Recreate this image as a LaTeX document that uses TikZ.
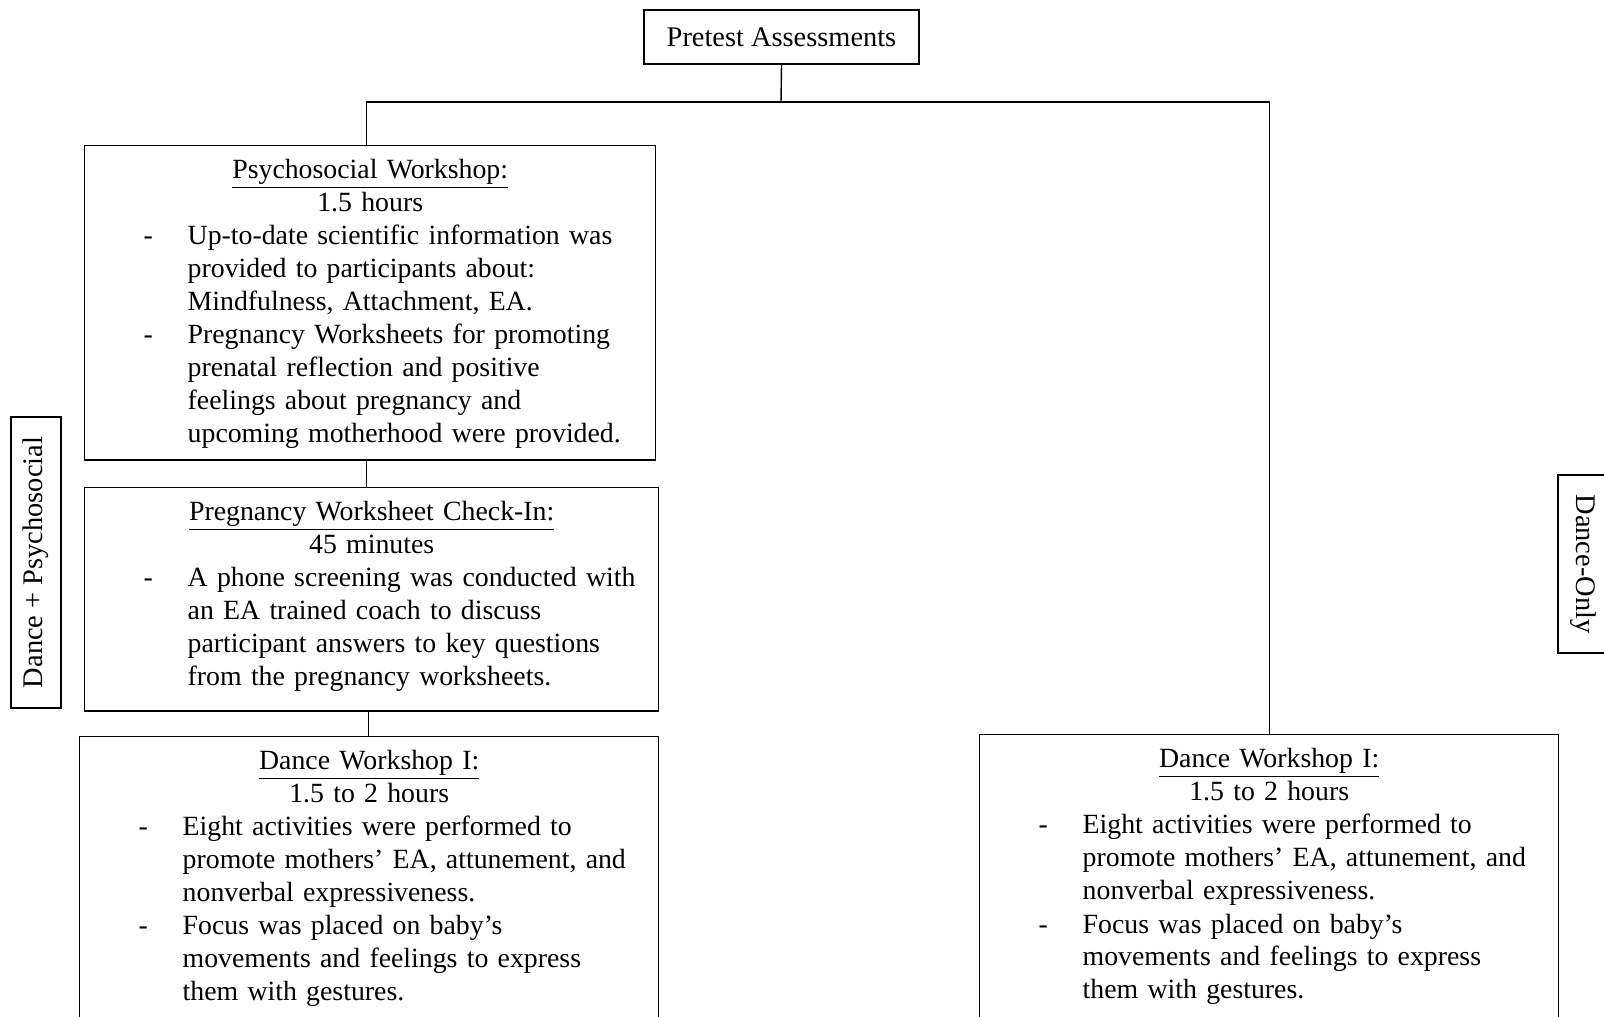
\documentclass[tikz,border=0pt]{standalone}
\usepackage{fontspec}
\setmainfont{Liberation Serif}
\usetikzlibrary{positioning}

\newcommand{\boxtitle}[2]{{\centering\underline{#1}\\#2\par}}
\newcommand{\dashitem}[1]{{\raggedright\let\\\newline\noindent\hangindent=51.5pt\hangafter=1\hspace*{29.5pt}\makebox[22pt][l]{-}#1\par}}

\begin{document}
\begin{tikzpicture}[x=0.5pt, y=-0.5pt,
    stepbox/.style={draw, line width=0.7pt, anchor=north west, inner xsep=0pt, inner ysep=7pt, font=\fontsize{13.9pt}{16.5pt}\selectfont},
    sidebox/.style={draw, line width=0.7pt, inner sep=0pt, minimum height=25pt, font=\fontsize{14.2pt}{16.5pt}\selectfont},
    link/.style={line width=0.7pt}]
    \useasboundingbox (0,0) rectangle (1604,1016);
    \clip (0,0) rectangle (1604,1016);
    \node[draw, line width=0.7pt, minimum width=137.5pt, minimum height=27pt, inner sep=0pt, font=\fontsize{14.2pt}{16.5pt}\selectfont] (pretest) at (781.5,37) {Pretest Assessments};
    \node[stepbox, text width=285.5pt] (psych) at (84,145) {%
        \boxtitle{Psychosocial Workshop:}{1.5 hours}
        \dashitem{Up-to-date scientific information was\\provided to participants about:\\Mindfulness, Attachment, EA.}
        \dashitem{Pregnancy Worksheets for promoting\\prenatal reflection and positive\\feelings about pregnancy and\\upcoming motherhood were provided.}
        \kern-1.5pt};
    \node[stepbox, text width=287pt] (checkin) at (84,487) {%
        \boxtitle{Pregnancy Worksheet Check-In:}{45 minutes}
        \dashitem{A phone screening was conducted with\\an EA trained coach to discuss\\participant answers to key questions\\from the pregnancy worksheets.}
        \kern2.5pt};
    \node[stepbox, text width=289.5pt] (danceA) at (79,736) {%
        \boxtitle{Dance Workshop I:}{1.5 to 2 hours}
        \dashitem{Eight activities were performed to\\promote mothers’ EA, attunement, and\\nonverbal expressiveness.}
        \dashitem{Focus was placed on baby’s\\movements and feelings to express\\them with gestures.}
        \kern30pt};
    \node[stepbox, text width=289.5pt] (danceB) at (979,734) {%
        \boxtitle{Dance Workshop I:}{1.5 to 2 hours}
        \dashitem{Eight activities were performed to\\promote mothers’ EA, attunement, and\\nonverbal expressiveness.}
        \dashitem{Focus was placed on baby’s\\movements and feelings to express\\them with gestures.}
        \kern30pt};
    \node[sidebox, minimum width=145.5pt, rotate=90] (mixlabel) at (36,562.5) {Dance + Psychosocial};
    \node[sidebox, minimum width=89pt, rotate=-90] (onlylabel) at (1583,564) {Dance-Only};
    \coordinate (split) at (781,102);
    \draw[link] (pretest.south) -- (split);
    \draw[link] (split) -| ([xshift=-1.75pt]psych.north);
    \draw[link] (split) -| (danceB.north);
    \draw[link] ([xshift=-1.75pt]psych.south) -- ([xshift=-1.75pt]psych.south |- checkin.north);
    \draw[link] ([xshift=-1.75pt]checkin.south) -- ([xshift=-1.75pt]checkin.south |- danceA.north);
\end{tikzpicture}
\end{document}
